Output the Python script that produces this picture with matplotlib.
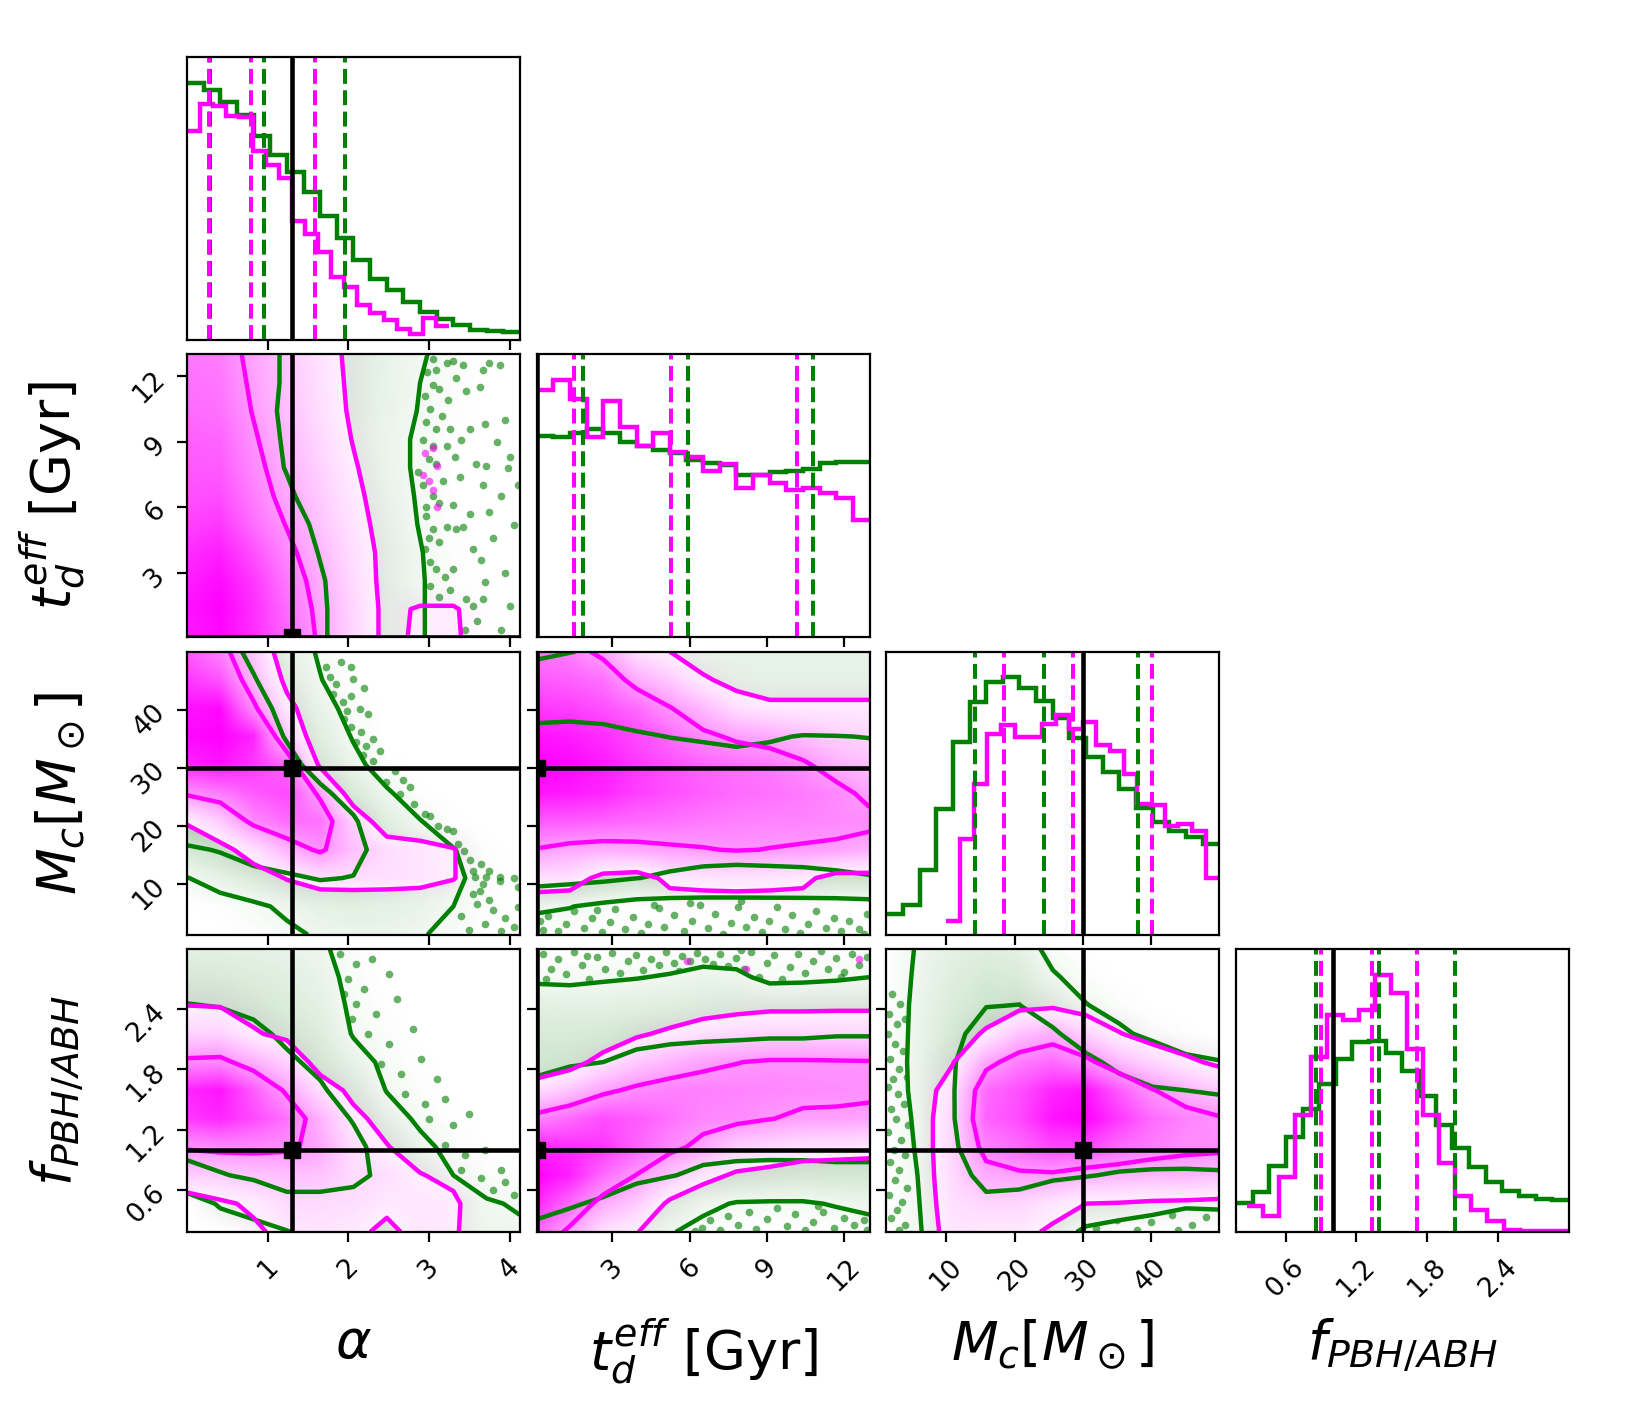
import numpy as np
import matplotlib
matplotlib.use("Agg")
import matplotlib.pyplot as plt
from matplotlib.colors import LinearSegmentedColormap, PowerNorm

# axis ranges of the four parameters
alpha_lim = (0.0, 4.13)
td_lim = (0.05, 13.0)
mc_lim = (1.2, 50.0)
f_lim = (0.18, 3.0)
limits = [alpha_lim, td_lim, mc_lim, f_lim]

labels = [r'$\alpha$', r'$t_d^{eff}$ [Gyr]', r'$M_c[M_\odot]$', r'$f_{PBH/ABH}$']
ticks = [[1, 2, 3, 4], [3, 6, 9, 12], [10, 20, 30, 40], [0.6, 1.2, 1.8, 2.4]]

# injected values
truths = [1.3, 0.06, 30.0, 1.0]

# 1d histograms (heights, 20 bins each)
alpha_hist_green = [773, 750, 716, 675, 613, 555, 506, 445, 373, 306,
                    240, 185, 151, 115, 85, 63, 45, 31, 28, 25]
alpha_hist_mag = [628, 710, 703, 673, 670, 568, 525, 488, 358, 320,
                  265, 190, 161, 105, 83, 60, 35, 20, 68, 43]
alpha_range_green = (0.0, 4.13)
alpha_range_mag = (0.0, 3.25)

td_hist_green = [606, 604, 614, 626, 614, 589, 576, 564, 556, 534,
                 524, 519, 489, 487, 496, 499, 506, 524, 529, 529]
td_hist_mag = [744, 774, 716, 602, 711, 634, 576, 614, 557, 542,
               501, 522, 449, 487, 464, 444, 449, 434, 419, 354]
td_range_green = (0.05, 13.0)
td_range_mag = (0.05, 13.0)

mc_hist_green = [62, 88, 193, 378, 580, 700, 758, 773, 742, 703,
                 652, 592, 535, 488, 438, 380, 337, 310, 293, 272]
mc_hist_mag = [42, 288, 452, 602, 630, 593, 593, 632, 660, 619,
               640, 570, 552, 482, 392, 388, 325, 332, 310, 170]
mc_range_green = (1.2, 50.0)
mc_range_mag = (10.0, 50.0)

f_hist_green = [85, 120, 197, 282, 368, 440, 515, 568, 570, 535,
                480, 405, 320, 250, 195, 148, 122, 108, 98, 95]
f_hist_mag = [77, 48, 163, 348, 522, 647, 633, 663, 768, 712,
              545, 348, 205, 108, 65, 32, 7, 3, 3, 2]
f_range_green = (0.18, 3.0)
f_range_mag = (0.27, 2.99)

# 16/50/84 percent quantiles
alpha_q_green = [0.29, 0.96, 1.955]
alpha_q_mag = [0.27, 0.79, 1.59]
td_q_green = [1.86, 5.95, 10.81]
td_q_mag = [1.51, 5.27, 10.18]
mc_q_green = [14.23, 24.33, 38.14]
mc_q_mag = [18.48, 28.53, 40.14]
f_q_green = [0.856, 1.394, 2.039]
f_q_mag = [0.899, 1.331, 1.713]

hists = [
    (alpha_hist_green, alpha_range_green, alpha_hist_mag, alpha_range_mag, alpha_q_green, alpha_q_mag),
    (td_hist_green, td_range_green, td_hist_mag, td_range_mag, td_q_green, td_q_mag),
    (mc_hist_green, mc_range_green, mc_hist_mag, mc_range_mag, mc_q_green, mc_q_mag),
    (f_hist_green, f_range_green, f_hist_mag, f_range_mag, f_q_green, f_q_mag),
]

# 2d densities on an 11x11 grid spanning each panel, rows from top to bottom
# alpha (x) vs t_d (y)
dens_alpha_td_green = [
    [8.0, 7.1, 6.2, 5.3, 4.4, 3.5, 2.6, 1.7, 0.8, 0, 0],
    [8.0, 7.1, 6.2, 5.3, 4.3, 3.4, 2.5, 1.5, 0.6, 0, 0],
    [8.1, 7.2, 6.2, 5.2, 4.3, 3.3, 2.4, 1.4, 0.4, 0, 0],
    [8.3, 7.3, 6.3, 5.3, 4.3, 3.2, 2.2, 1.2, 0.2, 0, 0],
    [8.7, 7.6, 6.5, 5.4, 4.4, 3.3, 2.2, 1.2, 0.1, 0, 0],
    [9.2, 8.0, 6.9, 5.8, 4.6, 3.5, 2.4, 1.3, 0.1, 0, 0],
    [9.9, 8.7, 7.5, 6.3, 5.1, 3.8, 2.6, 1.4, 0.2, 0, 0],
    [10, 9.3, 8.0, 6.7, 5.4, 4.2, 2.9, 1.6, 0.4, 0, 0],
    [10, 9.8, 8.4, 7.1, 5.7, 4.4, 3.0, 1.7, 0.3, 0, 0],
    [10, 10, 8.6, 7.2, 5.8, 4.4, 3.0, 1.7, 0.3, 0, 0],
    [10, 10, 8.6, 7.2, 5.8, 4.4, 3.0, 1.7, 0.3, 0, 0],
]
dens_alpha_td_mag = [
    [6.5, 6.4, 5.0, 3.7, 2.4, 1.0, 0, 0, 0, 0, 0],
    [6.8, 6.6, 5.2, 3.8, 2.5, 1.1, 0, 0, 0, 0, 0],
    [7.0, 6.8, 5.4, 4.0, 2.6, 1.2, 0, 0, 0, 0, 0],
    [7.3, 7.2, 5.7, 4.3, 2.9, 1.4, 0, 0, 0, 0, 0],
    [7.5, 7.5, 6.0, 4.6, 3.2, 1.7, 0.3, 0, 0, 0, 0],
    [7.8, 7.9, 6.4, 4.9, 3.5, 2.0, 0.5, 0, 0, 0, 0],
    [8.2, 8.5, 6.9, 5.4, 3.8, 2.3, 0.7, 0, 0, 0, 0],
    [8.8, 9.2, 7.8, 6.0, 4.3, 2.6, 0.9, 0, 0, 0, 0],
    [9.2, 9.7, 8.5, 6.6, 4.7, 2.8, 0.9, 0, 0, 0, 0],
    [9.5, 10, 8.8, 7.0, 5.0, 3.0, 1.0, 1.7, 1.7, 0.5, 0],
    [9.3, 9.8, 8.8, 7.2, 5.2, 3.0, 1.0, 1.8, 1.8, 0.5, 0],
]
# alpha (x) vs M_c (y)
dens_alpha_mc_green = [
    [7.5, 6.8, 4.8, 3.0, 1.2, 0, 0, 0, 0, 0, 0],
    [7.8, 7.2, 5.7, 3.6, 1.6, 0, 0, 0, 0, 0, 0],
    [8.0, 7.6, 6.6, 4.6, 2.5, 0.6, 0, 0, 0, 0, 0],
    [8.3, 8.0, 7.2, 5.3, 3.5, 1.3, 0, 0, 0, 0, 0],
    [8.6, 8.4, 7.8, 6.3, 4.5, 2.2, 0.3, 0, 0, 0, 0],
    [8.8, 8.8, 8.3, 7.2, 6.0, 4.5, 1.8, 0.2, 0, 0, 0],
    [9.2, 9.4, 9.0, 8.0, 7.0, 5.8, 3.5, 1.6, 0.2, 0, 0],
    [4.8, 5.8, 7.5, 7.8, 7.5, 6.5, 4.0, 2.5, 1.6, 0.3, 0],
    [1.4, 2.8, 4.0, 5.0, 5.7, 5.4, 4.0, 3.0, 2.0, 0.6, 0],
    [0, 0.3, 1.0, 2.0, 3.0, 3.2, 3.0, 2.5, 1.5, 0.3, 0],
    [0, 0, 0.3, 1.0, 1.8, 2.2, 2.2, 1.7, 0.8, 0, 0],
]
dens_alpha_mc_mag = [
    [7.5, 6.2, 3.7, 0, 0, 0, 0, 0, 0, 0, 0],
    [8.5, 7.7, 4.3, 1.0, 0, 0, 0, 0, 0, 0, 0],
    [9.5, 9.8, 5.9, 2.1, 0, 0, 0, 0, 0, 0, 0],
    [9.8, 10, 9.1, 3.6, 0, 0, 0, 0, 0, 0, 0],
    [9.0, 9.5, 8.5, 7.1, 1.1, 0, 0, 0, 0, 0, 0],
    [5.8, 6.5, 7.5, 8.0, 5.1, 0, 0, 0, 0, 0, 0],
    [1.7, 3.5, 6.0, 7.0, 6.8, 3.3, 0, 0, 0, 0, 0],
    [0, 0.8, 2.5, 4.5, 5.8, 4.0, 2.8, 2.2, 1.6, 0, 0],
    [0, 0, 0.5, 1.6, 2.5, 2.6, 2.5, 2.3, 1.6, 0, 0],
    [0, 0, 0, 0, 0, 0, 0, 0, 0, 0, 0],
    [0, 0, 0, 0, 0, 0, 0, 0, 0, 0, 0],
]
# t_d (x) vs M_c (y)
dens_td_mc_green = [
    [0.7, 1.4, 2.0, 2.3, 2.5, 2.5, 2.5, 2.5, 2.5, 2.5, 2.5],
    [3.5, 3.8, 4.0, 3.8, 3.0, 2.8, 2.8, 2.8, 2.8, 2.8, 2.8],
    [4.6, 4.7, 4.6, 4.2, 3.8, 3.2, 3.0, 3.2, 3.5, 3.5, 3.4],
    [6.3, 6.4, 6.2, 5.8, 5.45, 5.3, 5.1, 5.3, 5.6, 5.55, 5.45],
    [7.5, 7.6, 7.4, 7.2, 6.8, 6.3, 6.2, 6.3, 6.4, 6.4, 6.3],
    [8.2, 8.3, 8.0, 7.8, 7.3, 7.0, 6.8, 6.8, 6.8, 6.8, 6.8],
    [8.2, 8.3, 8.0, 7.8, 7.3, 7.0, 6.8, 6.8, 6.8, 6.8, 6.8],
    [7.8, 7.8, 7.5, 7.2, 6.8, 6.5, 6.3, 6.3, 6.3, 6.3, 6.3],
    [7.0, 6.6, 6.2, 5.55, 5.1, 4.8, 4.8, 4.9, 5.0, 5.2, 5.4],
    [2.0, 1.6, 0.8, 0.15, 0, 0, 0, 0, 0, 0, 0.2],
    [0, 0, 0, 0, 0, 0, 0, 0, 0, 0, 0],
]
dens_td_mc_mag = [
    [6.5, 6.3, 5.0, 2.5, 1.5, 0.3, 0, 0, 0, 0, 0],
    [7.5, 7.3, 6.8, 4.8, 3.5, 1.8, 0.8, 0.3, 0.3, 0.3, 0.3],
    [8.5, 8.3, 7.8, 7.0, 5.6, 4.2, 2.6, 2.0, 2.0, 2.0, 2.0],
    [9.5, 9.3, 8.8, 8.0, 7.0, 5.9, 5.2, 4.8, 4.0, 3.3, 3.0],
    [10, 9.8, 9.3, 8.5, 7.8, 7.2, 6.8, 6.5, 5.8, 4.6, 4.0],
    [9.5, 9.3, 9.0, 8.3, 7.8, 7.4, 7.0, 6.8, 6.5, 6.1, 5.0],
    [7.5, 7.5, 7.3, 7.0, 6.8, 6.5, 6.3, 6.2, 6.2, 6.0, 6.0],
    [5.4, 4.9, 4.7, 4.9, 5.2, 5.4, 5.6, 5.45, 5.3, 5.2, 4.6],
    [2.5, 2.5, 0.9, 0.6, 2.0, 2.2, 2.3, 2.2, 2.0, 0.7, 0.8],
    [0.5, 0.2, 0, 0, 0.6, 0.6, 0.6, 0.6, 0.6, 0, 0],
    [0, 0, 0, 0, 0, 0, 0, 0, 0, 0, 0],
]
# alpha (x) vs f (y)
dens_alpha_f_green = [
    [3.0, 3.0, 2.8, 2.5, 1.9, 0.5, 0, 0, 0, 0, 0],
    [4.3, 4.2, 3.8, 3.3, 2.4, 0.8, 0, 0, 0, 0, 0],
    [5.6, 5.4, 4.8, 4.0, 3.0, 1.0, 0.2, 0, 0, 0, 0],
    [6.8, 6.8, 6.2, 4.9, 3.8, 1.3, 0.5, 0, 0, 0, 0],
    [7.8, 7.8, 7.4, 6.0, 4.8, 2.6, 0.9, 0.2, 0, 0, 0],
    [8.5, 8.5, 8.2, 7.5, 5.9, 4.0, 1.4, 0.5, 0, 0, 0],
    [8.3, 8.4, 8.2, 7.8, 7.0, 5.3, 2.8, 1.0, 0.2, 0, 0],
    [6.8, 7.0, 7.2, 7.2, 7.0, 6.3, 4.2, 2.2, 0.7, 0.1, 0],
    [4.0, 5.3, 6.0, 6.2, 6.2, 6.2, 4.8, 3.2, 1.5, 0.6, 0.3],
    [0, 1.8, 3.0, 5.0, 5.0, 4.5, 4.5, 3.4, 2.4, 1.7, 1.3],
    [0, 0, 0.3, 1.3, 3.0, 3.5, 3.5, 3.0, 2.5, 2.0, 1.8],
]
dens_alpha_f_mag = [
    [0, 0, 0, 0, 0, 0, 0, 0, 0, 0, 0],
    [0.5, 0.4, 0, 0, 0, 0, 0, 0, 0, 0, 0],
    [1.5, 1.4, 0.8, 0, 0, 0, 0, 0, 0, 0, 0],
    [3.0, 3.2, 1.7, 1.0, 0.2, 0, 0, 0, 0, 0, 0],
    [5.9, 6.0, 4.6, 3.2, 0.6, 0.2, 0, 0, 0, 0, 0],
    [9.0, 9.5, 7.5, 5.2, 2.6, 1.0, 0.3, 0, 0, 0, 0],
    [8.5, 9.0, 8.0, 6.8, 4.5, 2.0, 0.8, 0, 0, 0, 0],
    [5.7, 6.0, 6.0, 5.8, 5.0, 2.6, 1.6, 0.5, 0, 0, 0],
    [3.5, 3.4, 3.8, 4.0, 3.8, 2.8, 2.6, 1.6, 1.0, 0, 0],
    [0.2, 1.2, 1.8, 2.8, 2.8, 2.6, 2.0, 2.2, 1.9, 0, 0],
    [0, 0, 1.2, 2.0, 2.2, 2.0, 1.0, 2.2, 1.8, 0, 0],
]
# t_d (x) vs f (y)
dens_td_f_green = [
    [0, 0, 0, 0, 0, 0.3, 0.2, 0, 0, 0, 0],
    [1.0, 0.9, 1.2, 1.4, 1.7, 2.2, 2.0, 0.9, 1.0, 1.2, 1.5],
    [3.1, 3.0, 3.0, 3.2, 3.5, 3.8, 3.8, 3.6, 3.6, 3.6, 3.7],
    [4.3, 4.3, 4.6, 5.0, 5.2, 5.3, 5.35, 5.4, 5.4, 5.45, 5.45],
    [5.2, 5.35, 5.5, 5.9, 6.0, 6.0, 6.0, 6.0, 6.0, 6.0, 6.0],
    [5.8, 6.3, 6.4, 6.4, 6.5, 6.4, 6.3, 6.2, 6.2, 6.2, 6.2],
    [6.8, 7.0, 7.0, 7.0, 6.8, 6.6, 6.5, 6.4, 6.4, 6.4, 6.4],
    [7.5, 7.5, 7.3, 7.0, 6.5, 6.2, 6.0, 6.1, 6.2, 6.3, 6.3],
    [7.0, 7.0, 6.5, 6.0, 5.6, 5.1, 5.0, 4.8, 4.7, 4.8, 4.8],
    [6.0, 5.7, 5.2, 4.3, 3.5, 2.2, 1.3, 1.2, 1.2, 1.7, 2.2],
    [5.1, 4.5, 3.5, 2.5, 1.7, 0.6, 0, 0, 0, 0, 0.4],
]
dens_td_f_mag = [
    [0, 0, 0, 0, 0, 0, 0, 0, 0, 0, 0],
    [0, 0, 0, 0, 0, 0, 0, 0, 0, 0, 0],
    [0, 0, 0, 0, 0, 0.6, 0.9, 1.1, 1.1, 1.15, 1.15],
    [0, 0, 0, 1.2, 1.9, 2.5, 2.8, 3.0, 3.0, 3.0, 3.0],
    [0, 0.6, 2.3, 3.5, 4.4, 5.1, 5.45, 5.7, 5.7, 5.65, 5.6],
    [2.6, 3.8, 5.1, 5.9, 6.3, 6.3, 6.2, 6.1, 6.0, 5.9, 5.8],
    [6.2, 7.0, 7.9, 7.5, 6.8, 6.1, 6.0, 5.55, 5.2, 5.2, 5.1],
    [9.0, 8.8, 8.5, 7.2, 6.0, 5.0, 3.4, 2.9, 2.5, 2.4, 2.3],
    [10, 9.2, 7.0, 5.45, 3.8, 2.2, 1.2, 0.9, 0.5, 0.4, 0.3],
    [9.0, 7.0, 4.8, 3.5, 1.1, 0, 0, 0, 0, 0, 0],
    [7.0, 5.1, 2.5, 1.6, 0, 0, 0, 0, 0, 0, 0],
]
# M_c (x) vs f (y)
dens_mc_f_green = [
    [0, 1.8, 3.0, 3.5, 3.0, 0.6, 0, 0, 0, 0, 0],
    [0, 2.0, 3.5, 4.5, 4.2, 1.8, 0.5, 0, 0, 0, 0],
    [0, 2.2, 4.0, 5.4, 5.55, 3.8, 1.6, 0.6, 0, 0, 0],
    [0, 2.3, 4.6, 7.0, 7.0, 6.0, 3.8, 2.0, 0.8, 0.2, 0],
    [0, 2.4, 5.3, 7.5, 7.8, 7.5, 6.3, 4.6, 3.5, 2.0, 1.6],
    [0, 2.3, 5.4, 7.5, 8.0, 8.0, 7.5, 6.8, 5.8, 5.5, 5.3],
    [0, 2.0, 5.4, 7.3, 7.8, 7.8, 7.5, 7.3, 7.0, 6.8, 6.6],
    [0, 1.8, 5.2, 7.0, 7.2, 7.0, 6.8, 6.8, 6.6, 6.5, 6.4],
    [0, 1.6, 4.6, 6.2, 6.2, 5.8, 5.6, 5.3, 5.2, 5.2, 5.3],
    [0, 1.5, 3.8, 5.0, 4.8, 4.2, 3.5, 3.2, 2.5, 1.8, 1.9],
    [0, 1.4, 3.0, 3.8, 3.5, 2.8, 1.0, 0.3, 0, 0, 0],
]
dens_mc_f_mag = [
    [0, 0, 0, 0, 0, 0, 0, 0, 0, 0, 0],
    [0, 0, 0, 0, 0, 0, 0, 0, 0, 0, 0],
    [0, 0, 0, 0.3, 1.0, 1.2, 0.6, 0, 0, 0, 0],
    [0, 0, 0.3, 1.8, 3.8, 4.6, 3.2, 1.6, 0.6, 0.2, 0],
    [0, 0.3, 1.4, 4.9, 6.4, 7.0, 6.0, 4.2, 3.0, 1.9, 1.1],
    [0, 0.5, 2.5, 7.0, 7.8, 9.0, 9.5, 7.5, 5.6, 4.5, 3.5],
    [0, 0.5, 3.0, 7.2, 8.0, 9.5, 10, 8.5, 7.0, 6.2, 5.7],
    [0, 0.5, 3.0, 6.2, 7.0, 8.0, 8.0, 7.0, 6.4, 5.9, 5.9],
    [0, 0.5, 2.8, 4.8, 5.2, 5.2, 4.6, 4.5, 4.3, 4.5, 4.0],
    [0, 0.5, 2.5, 3.0, 3.0, 2.2, 1.5, 1.4, 1.2, 1.1, 1.0],
    [0, 0.5, 2.2, 2.0, 2.0, 1.2, 0, 0, 0, 0, 0],
]

# samples shown outside the outer contour
pts_alpha_td_green = [
    (3.05, 12.8), (3.22, 12.6), (3.30, 12.7), (3.34, 11.9), (3.42, 12.5), (3.67, 12.3),
    (3.75, 12.6), (3.88, 12.5), (3.09, 12.3), (3.05, 11.6), (3.13, 11.4), (3.24, 10.9),
    (3.46, 11.3), (3.63, 11.5), (2.95, 11.1), (3.01, 10.5), (2.97, 9.9), (3.09, 9.6),
    (3.26, 9.6), (3.51, 9.6), (3.69, 9.8), (3.94, 10.0), (2.93, 9.1), (3.05, 8.8),
    (3.22, 8.8), (3.32, 8.3), (3.09, 8.0), (3.38, 7.4), (3.59, 8.0), (3.71, 7.9),
    (3.98, 7.8), (2.86, 7.6), (2.93, 7.0), (3.05, 6.5), (3.13, 6.2), (3.30, 6.1),
    (3.51, 5.7), (3.75, 5.8), (3.67, 7.0), (2.97, 5.6), (3.05, 5.0), (3.13, 4.4),
    (3.22, 5.1), (3.34, 5.0), (3.42, 5.1), (2.95, 4.1), (3.01, 3.5), (3.09, 3.2),
    (3.30, 3.2), (3.55, 4.1), (3.01, 2.4), (3.13, 1.9), (3.26, 2.2), (3.46, 1.8),
    (3.55, 1.5), (3.67, 1.8), (3.85, 9.0), (4.00, 8.3), (3.90, 6.5), (4.05, 5.2),
    (3.80, 4.6), (3.95, 3.0), (3.70, 2.6), (4.00, 1.5), (3.60, 0.8), (3.45, 0.4),
    (3.90, 0.4), (4.10, 7.0), (3.65, 3.6), (2.98, 12.2), (3.00, 8.2), (2.96, 6.0),
    (3.18, 7.2), (3.40, 9.1), (3.16, 10.2), (3.00, 4.6), (3.20, 2.8), (2.99, 1.4),
]
pts_alpha_td_mag = [(2.95, 8.5), (3.05, 8.7), (3.10, 7.9), (2.93, 7.5), (3.05, 6.8), (3.00, 7.2), (3.10, 6.0)]

pts_alpha_mc_green = [
    (1.73, 47.3), (1.77, 45.6), (1.91, 48.2), (2.04, 47.3), (1.85, 44.4), (2.06, 45.3),
    (2.20, 43.8), (1.81, 42.7), (1.93, 41.3), (2.04, 42.4), (1.98, 39.8), (2.14, 40.1),
    (2.24, 39.3), (1.95, 38.4), (2.04, 37.0), (2.16, 36.1), (2.10, 34.4), (2.22, 33.8),
    (2.39, 32.9), (2.18, 32.1), (2.31, 31.2), (2.31, 34.9), (2.47, 27.5), (2.58, 29.5),
    (2.68, 27.8), (2.76, 26.6), (2.82, 23.7), (2.64, 25.5), (2.95, 22.0), (3.01, 21.7),
    (3.11, 20.0), (3.22, 19.4), (3.30, 19.1), (3.36, 16.8), (3.44, 15.7), (3.51, 14.0),
    (3.55, 12.2), (3.65, 13.4), (3.75, 12.2), (3.88, 11.1), (3.57, 11.1), (3.71, 11.1),
    (3.67, 9.9), (3.88, 10.5), (3.55, 8.2), (3.63, 8.8), (3.60, 6.5), (3.80, 5.5),
    (3.95, 4.0), (4.05, 2.5), (3.70, 3.0), (3.50, 2.0), (3.90, 1.8), (4.10, 6.0),
    (3.75, 7.2), (3.40, 4.5), (4.05, 11.0), (4.10, 9.5),
]

pts_td_mc_green = [
    (0.3, 2.0), (0.5, 4.5), (0.9, 1.8), (1.2, 3.0), (1.5, 5.2), (1.9, 2.4), (2.2, 4.0),
    (2.6, 1.6), (2.9, 3.4), (3.1, 5.6), (3.5, 2.2), (3.8, 4.2), (4.1, 1.5), (4.4, 3.0),
    (4.8, 5.8), (5.0, 2.6), (5.4, 4.6), (5.8, 1.9), (6.1, 3.6), (6.4, 6.3), (6.7, 2.3),
    (7.0, 4.8), (7.3, 1.4), (7.6, 3.2), (7.9, 5.9), (8.2, 2.6), (8.5, 4.3), (8.8, 1.7),
    (9.1, 3.5), (9.4, 6.0), (9.7, 2.1), (10.0, 4.6), (10.3, 1.5), (10.6, 3.1), (10.9, 5.3),
    (11.3, 2.4), (11.6, 4.1), (11.9, 1.8), (12.2, 3.6), (12.6, 2.2), (12.9, 4.8), (12.8, 1.4),
    (0.2, 3.5), (2.4, 5.5), (4.6, 6.4), (8.0, 7.0), (6.0, 6.6),
]

pts_alpha_f_green = [
    (1.90, 2.95), (2.10, 2.85), (2.30, 2.90), (2.00, 2.70), (2.20, 2.60), (2.50, 2.75),
    (2.10, 2.45), (2.35, 2.35), (2.60, 2.50), (2.25, 2.15), (2.50, 2.05), (2.80, 2.20),
    (2.40, 1.85), (2.65, 1.75), (2.90, 1.90), (3.10, 1.70), (2.70, 1.55), (2.95, 1.45),
    (3.20, 1.50), (3.00, 1.30), (3.30, 1.25), (3.50, 1.35), (3.20, 1.05), (3.45, 0.95),
    (3.70, 1.00), (3.40, 0.80), (3.65, 0.72), (3.90, 0.80), (3.80, 0.60), (4.05, 0.55),
    (3.95, 0.68), (2.05, 2.30), (1.95, 2.55),
]

pts_td_f_green = [
    (0.3, 2.95), (0.6, 2.80), (0.9, 2.90), (1.2, 2.75), (1.5, 2.97), (1.8, 2.84), (2.1, 2.70),
    (2.4, 2.92), (2.7, 2.80), (3.0, 2.96), (3.3, 2.76), (3.6, 2.88), (3.9, 2.94), (4.2, 2.79),
    (4.5, 2.90), (4.8, 2.84), (5.1, 2.97), (5.4, 2.86), (5.7, 2.93), (6.0, 2.88), (6.3, 2.96),
    (6.6, 2.90), (6.9, 2.85), (7.2, 2.95), (7.5, 2.83), (7.8, 2.91), (8.1, 2.80), (8.4, 2.97),
    (8.7, 2.72), (9.0, 2.86), (9.3, 2.94), (9.6, 2.70), (9.9, 2.82), (10.2, 2.95), (10.5, 2.76),
    (10.8, 2.88), (11.1, 2.98), (11.4, 2.80), (11.7, 2.91), (12.0, 2.77), (12.3, 2.95),
    (12.6, 2.84), (12.9, 2.92), (0.4, 2.70), (2.0, 2.93), (5.6, 2.78), (8.0, 2.99), (11.9, 2.72),
    (6.5, 0.22), (6.8, 0.30), (7.2, 0.20), (7.5, 0.34), (7.9, 0.25), (8.3, 0.38), (8.6, 0.21),
    (9.0, 0.31), (9.4, 0.42), (9.8, 0.24), (10.1, 0.36), (10.5, 0.20), (10.8, 0.28), (11.2, 0.38),
    (11.6, 0.22), (12.0, 0.32), (12.4, 0.25), (12.8, 0.30), (12.9, 0.20), (6.2, 0.19), (7.0, 0.42),
    (11.0, 0.44),
]
pts_td_f_mag = [(5.9, 2.88), (8.2, 2.80), (12.6, 2.90)]

pts_mc_f_green = [
    (2.0, 2.55), (3.2, 2.45), (1.6, 2.35), (2.8, 2.25), (4.0, 2.30), (1.5, 2.15), (2.5, 2.05),
    (3.6, 1.98), (1.8, 1.90), (3.0, 1.80), (2.2, 1.70), (4.2, 1.72), (1.4, 1.62), (2.9, 1.55),
    (3.8, 1.45), (1.9, 1.40), (2.6, 1.30), (4.4, 1.25), (1.5, 1.18), (3.3, 1.10), (2.3, 1.00),
    (4.0, 0.95), (1.7, 0.88), (3.1, 0.80), (2.5, 0.70), (4.3, 0.62), (1.6, 0.55), (3.5, 0.48),
    (2.8, 0.40), (1.9, 0.32), (4.0, 0.25), (3.0, 0.20),
    (32, 0.22), (35, 0.30), (38, 0.20), (40, 0.28), (43, 0.35), (46, 0.25), (48, 0.33),
    (33, 0.32), (44, 0.20),
]

panels = {
    (1, 0): (dens_alpha_td_green, dens_alpha_td_mag, pts_alpha_td_green, pts_alpha_td_mag),
    (2, 0): (dens_alpha_mc_green, dens_alpha_mc_mag, pts_alpha_mc_green, []),
    (2, 1): (dens_td_mc_green, dens_td_mc_mag, pts_td_mc_green, []),
    (3, 0): (dens_alpha_f_green, dens_alpha_f_mag, pts_alpha_f_green, []),
    (3, 1): (dens_td_f_green, dens_td_f_mag, pts_td_f_green, pts_td_f_mag),
    (3, 2): (dens_mc_f_green, dens_mc_f_mag, pts_mc_f_green, []),
}

levels = [1.5, 5.5]
green_cmap = LinearSegmentedColormap.from_list("g", [(0, 0.5, 0, 0), (0, 0.5, 0, 0.36)])
mag_cmap = LinearSegmentedColormap.from_list("m", [(1, 0, 1, 0), (1, 0, 1, 1)])
lw = 3.2

fig, axes = plt.subplots(4, 4, figsize=(16.36, 14.02), dpi=100)
fig.subplots_adjust(left=0.1143, right=0.959, bottom=0.1213, top=0.9593,
                    wspace=0.05, hspace=0.05)

for i in range(4):
    for j in range(4):
        ax = axes[i, j]
        if j > i:
            ax.axis('off')
            continue
        for sp in ax.spines.values():
            sp.set_linewidth(1.6)
        ax.tick_params(direction='out', length=7, width=1.6, labelsize=19, pad=5)
        ax.tick_params(axis='x', pad=9)

        if i == j:
            hg, rg, hm, rm, qg, qm = hists[i]
            ax.stairs(hg, np.linspace(rg[0], rg[1], len(hg) + 1), baseline=None,
                      color='green', lw=lw)
            ax.stairs(hm, np.linspace(rm[0], rm[1], len(hm) + 1), baseline=None,
                      color='magenta', lw=lw)
            for q in qg:
                ax.axvline(q, color='green', ls='--', lw=2.9)
            for q in qm:
                ax.axvline(q, color='magenta', ls='--', lw=2.9)
            ax.axvline(truths[i], color='black', lw=3.3)
            ax.set_ylim(0, 1.1 * max(max(hg), max(hm)))
            ax.set_yticks([])
        else:
            dg, dm, pg, pm = panels[(i, j)]
            x0, x1 = limits[j]
            y0, y1 = limits[i]
            xs = np.linspace(x0, x1, 11)
            ys = np.linspace(y1, y0, 11)
            X, Y = np.meshgrid(xs, ys)
            dx = (x1 - x0) / 10
            dy = (y1 - y0) / 10
            ext = (x0 - dx / 2, x1 + dx / 2, y0 - dy / 2, y1 + dy / 2)
            if pg:
                px, py = zip(*pg)
                ax.plot(px, py, 'o', color='green', ms=5.5, mew=0, alpha=0.6, zorder=0.5)
            if pm:
                px, py = zip(*pm)
                ax.plot(px, py, 'o', color='magenta', ms=5.5, mew=0, alpha=0.6, zorder=0.5)
            for dens, cmap, gamma in ((dg, green_cmap, 1.0), (dm, mag_cmap, 1.5)):
                Z = np.array(dens, dtype=float)
                ax.contourf(X, Y, Z, levels=[levels[0], Z.max() + 1], colors='white',
                            antialiased=False, zorder=1)
                ax.imshow(np.clip(Z, 0, 10), cmap=cmap, norm=PowerNorm(gamma, vmin=0, vmax=10),
                          extent=ext, origin='upper', interpolation='bilinear',
                          aspect='auto', zorder=1)
            for dens, col in ((dg, 'green'), (dm, 'magenta')):
                Z = np.array(dens, dtype=float)
                ax.contour(X, Y, Z, levels=levels, colors=col, linewidths=lw, zorder=2)
            ax.axvline(truths[j], color='black', lw=3.3, zorder=3)
            ax.axhline(truths[i], color='black', lw=3.3, zorder=3)
            ax.plot(truths[j], truths[i], 's', color='black', ms=12, zorder=4)
            ax.set_ylim(limits[i])
            ax.set_yticks(ticks[i])

        ax.set_xlim(limits[j])
        ax.set_xticks(ticks[j])
        if i < 3:
            ax.set_xticklabels([])
        else:
            for lab in ax.get_xticklabels():
                lab.set_rotation(45)
            ax.set_xlabel(labels[j], fontsize=39)
            ax.xaxis.set_label_coords(0.5, -0.3)
        if i != j:
            if j > 0:
                ax.set_yticklabels([])
            else:
                for lab in ax.get_yticklabels():
                    lab.set_rotation(45)
                ax.set_ylabel(labels[i], fontsize=39)
                ax.yaxis.set_label_coords(-0.3, 0.5)

fig.savefig("out.png", dpi=100)
